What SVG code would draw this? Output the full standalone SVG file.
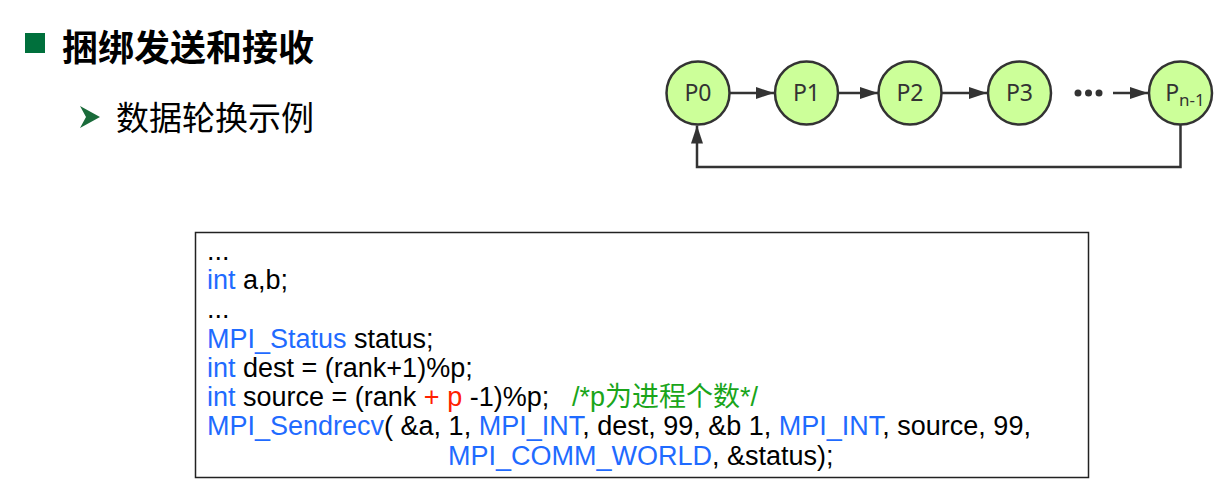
<svg xmlns="http://www.w3.org/2000/svg" width="1225" height="491" viewBox="0 0 1225 491">
<defs>
<style>
.node circle{fill:#ccff99;stroke:#333;stroke-width:2.5}
.node text{font-family:"Noto Sans","Open Sans",sans-serif;font-size:23px;fill:#333;text-anchor:middle}
.conn{stroke:#333;stroke-width:2.5;fill:none}
.code{font-family:"Liberation Sans","Noto Sans CJK SC",sans-serif;font-size:27px;fill:#000}
.kw{fill:#1f6bff}
.red{fill:#ff2000}
.cm{fill:#1aa51a}
</style>
<marker id="ah" markerWidth="18" markerHeight="12" refX="18" refY="6" orient="auto" markerUnits="userSpaceOnUse">
<path d="M0,0 L18,6 L0,12 Z" fill="#333"/>
</marker>
</defs>
<rect width="1225" height="491" fill="#fff"/>
<g id="title">
<rect x="25" y="33" width="20" height="20" fill="#00703c"/>
<text x="62" y="61" font-family="'Noto Sans CJK SC',sans-serif" font-weight="bold" font-size="36" fill="#000">捆绑发送和接收</text>
</g>
<g id="subtitle">
<path d="M80,106 L100,117 L80,128 L86,117 Z" fill="#1a6b3a"/>
<text x="116" y="130" font-family="'Noto Sans CJK SC',sans-serif" font-size="33" fill="#000">数据轮换示例</text>
</g>
<g id="connectors">
<line class="conn" x1="730" y1="93" x2="774" y2="93" marker-end="url(#ah)"/>
<line class="conn" x1="839" y1="93" x2="878" y2="93" marker-end="url(#ah)"/>
<line class="conn" x1="942" y1="93" x2="987" y2="93" marker-end="url(#ah)"/>
<line class="conn" x1="1113" y1="93" x2="1148" y2="93" marker-end="url(#ah)"/>
<path class="conn" d="M1180.5,125 V167 H697 V125.5" marker-end="url(#ah)"/>
<circle cx="1078" cy="93" r="3.5" fill="#333"/>
<circle cx="1088.5" cy="93" r="3.5" fill="#333"/>
<circle cx="1099" cy="93" r="3.5" fill="#333"/>
</g>
<g id="P0" class="node"><circle cx="698" cy="93" r="31.5"/><text x="698" y="101">P0</text></g>
<g id="P1" class="node"><circle cx="806.5" cy="93" r="31.5"/><text x="806.5" y="101">P1</text></g>
<g id="P2" class="node"><circle cx="910" cy="93" r="31.5"/><text x="910" y="101">P2</text></g>
<g id="P3" class="node"><circle cx="1019.5" cy="93" r="31.5"/><text x="1019.5" y="101">P3</text></g>
<g id="Pn-1" class="node"><circle cx="1180.5" cy="93" r="31.5"/><text x="1185" y="101">P<tspan font-size="17" dy="5">n-1</tspan></text></g>
<g id="codebox">
<rect x="195.5" y="232.5" width="893" height="245" fill="#fff" stroke="#222" stroke-width="1.5"/>
<text class="code" xml:space="preserve">
<tspan x="207" y="260">...</tspan>
<tspan x="207" y="289"><tspan class="kw">int</tspan> a,b;</tspan>
<tspan x="207" y="318">...</tspan>
<tspan x="207" y="348"><tspan class="kw">MPI_Status</tspan> status;</tspan>
<tspan x="207" y="377"><tspan class="kw">int</tspan> dest = (rank+1)%p;</tspan>
<tspan x="207" y="406"><tspan class="kw">int</tspan> source = (rank <tspan class="red">+ p</tspan> -1)%p;</tspan>
<tspan x="572" y="406" class="cm">/*p为进程个数*/</tspan>
<tspan x="207" y="435"><tspan class="kw">MPI_Sendrecv</tspan>( &amp;a, 1, <tspan class="kw">MPI_INT</tspan>, dest, 99, &amp;b 1, <tspan class="kw">MPI_INT</tspan>, source, 99,</tspan>
<tspan x="448" y="465"><tspan class="kw">MPI_COMM_WORLD</tspan>, &amp;status);</tspan>
</text>
</g>
</svg>
